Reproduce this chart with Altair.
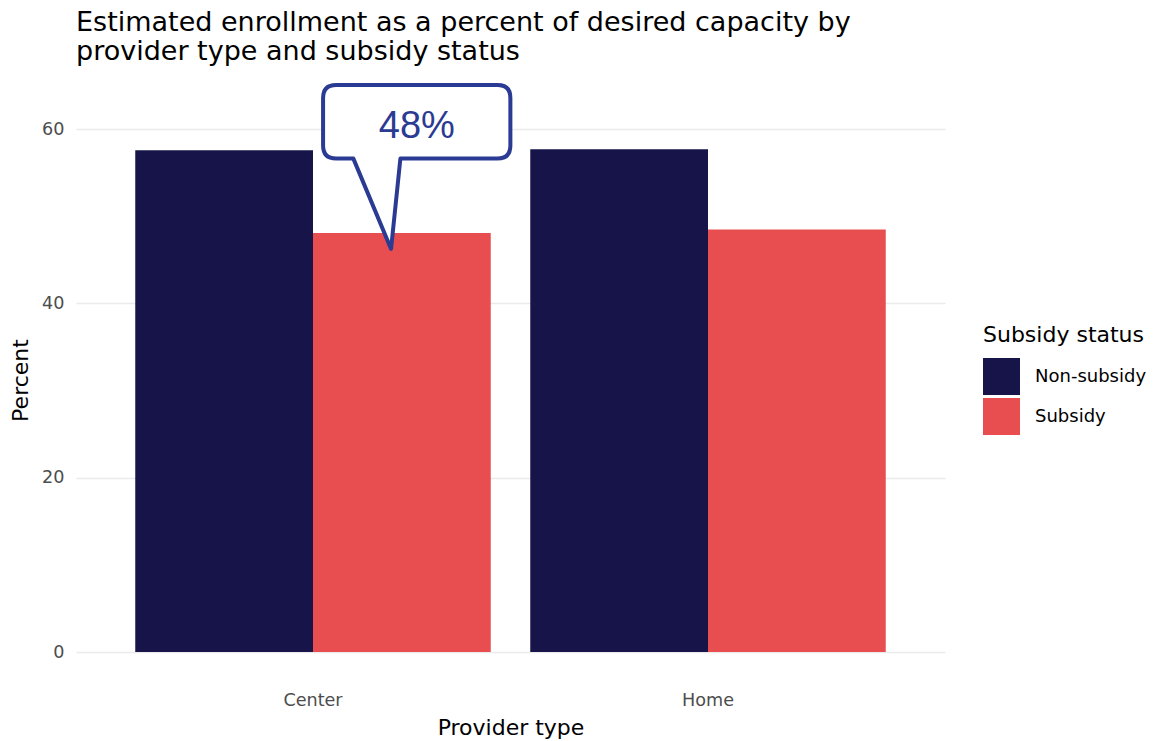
import altair as alt
import pandas as pd

# ---- data ----
provider_types = ["Center", "Center", "Home", "Home"]
subsidy_status = ["Non-subsidy", "Subsidy", "Non-subsidy", "Subsidy"]
percent_values = [57.6, 48.1, 57.7, 48.5]
y_ticks = [0, 20, 40, 60]
status_order = ["Non-subsidy", "Subsidy"]
status_colors = ["#161448", "#e84e4f"]
title_lines = ["Estimated enrollment as a percent of desired capacity by",
               "provider type and subsidy status"]

df = pd.DataFrame({
    "Provider type": provider_types,
    "Subsidy status": subsidy_status,
    "Percent": percent_values,
})

FONT = "DejaVu Sans, Liberation Sans, Arial, sans-serif"
LABEL_FONT = "Liberation Sans, Arial, sans-serif"
CALLOUT = "#2b3a93"

# callout shape (units of 100 px, origin = annotated bar top)
def callout_path():
    L, R, T, B, r = -0.788, 1.085, -1.48, -0.743, 0.13
    pl, pr, tx, ty = -0.485, -0.015, -0.108, 0.16
    return (f"M{L+r},{T} L{R-r},{T} Q{R},{T} {R},{T+r} L{R},{B-r} Q{R},{B} {R-r},{B} "
            f"L{pr},{B} L{tx},{ty} L{pl},{B} L{L+r},{B} Q{L},{B} {L},{B-r} "
            f"L{L},{T+r} Q{L},{T} {L+r},{T} Z")

x_enc = alt.X(
    "Provider type:N",
    scale=alt.Scale(paddingInner=0.1, paddingOuter=0.15),
    axis=alt.Axis(title="Provider type", labelAngle=0, ticks=False, domain=False,
                  grid=False, labelPadding=39, labelFontSize=17.6, labelColor="#4d4d4d",
                  labelFont=FONT, titleFont=FONT, titleFontSize=22, titleFontWeight="normal",
                  titleColor="black", titleBaseline="alphabetic", titleY=82),
)
xo_enc = alt.XOffset("Subsidy status:N",
                     scale=alt.Scale(domain=status_order, paddingInner=0, paddingOuter=0))
y_enc = alt.Y(
    "Percent:Q",
    scale=alt.Scale(domain=[0, 60.6], nice=False, zero=True),
    axis=alt.Axis(values=y_ticks, title="Percent", ticks=False, domain=False,
                  labelPadding=12, labelFontSize=17.6, labelColor="#4d4d4d", labelFont=FONT,
                  grid=True, gridColor="#ebebeb", gridWidth=1.5,
                  titleFont=FONT, titleFontSize=22, titleFontWeight="normal", titleColor="black",
                  titleAngle=270, titleBaseline="alphabetic", titleAlign="center",
                  titleX=-49, titleY=256),
)

bars = alt.Chart(df).mark_bar().encode(
    x=x_enc,
    xOffset=xo_enc,
    y=y_enc,
    color=alt.Color(
        "Subsidy status:N",
        scale=alt.Scale(domain=status_order, range=status_colors),
        legend=alt.Legend(orient="none", legendX=907, legendY=201, title="Subsidy status",
                          titleFont=FONT, titleFontSize=22, titleFontWeight="normal",
                          titleColor="black", labelFont=FONT, labelFontSize=18,
                          labelColor="black", symbolType="square", symbolSize=1369,
                          symbolStrokeWidth=0, symbolOpacity=1, rowPadding=3, titlePadding=11,
                          labelOffset=15, padding=0),
    ),
)

annot = alt.Chart(df).transform_filter(
    (alt.datum["Provider type"] == "Center") & (alt.datum["Subsidy status"] == "Subsidy")
).transform_calculate(label="format(datum.Percent, '.0f') + '%'")

bubble = annot.mark_point(
    shape=callout_path(), size=40000, filled=True, fill="white", stroke=CALLOUT,
    strokeWidth=4, opacity=1, fillOpacity=1, strokeJoin="round",
).encode(x=alt.X("Provider type:N"), xOffset=alt.XOffset("Subsidy status:N"),
         y=alt.Y("Percent:Q"))

label = annot.mark_text(
    dx=15, dy=-95, fontSize=38, color=CALLOUT, font=LABEL_FONT, align="center",
    baseline="alphabetic",
).encode(x=alt.X("Provider type:N"), xOffset=alt.XOffset("Subsidy status:N"),
         y=alt.Y("Percent:Q"), text="label:N")

chart = alt.layer(bars, bubble, label).properties(
    width=869, height=528,
    autosize=alt.AutoSizeParams(type="none"),
    padding={"left": 76, "top": 124, "right": 209, "bottom": 89},
    title=alt.TitleParams(title_lines, anchor="start", frame="group", fontSize=27,
                          fontWeight="normal", color="black", font=FONT, lineHeight=29,
                          offset=-4, baseline="alphabetic"),
).configure(background="white").configure_view(strokeWidth=0, stroke="transparent")

chart.save("out.html", embed_options={"renderer": "svg", "actions": False})
